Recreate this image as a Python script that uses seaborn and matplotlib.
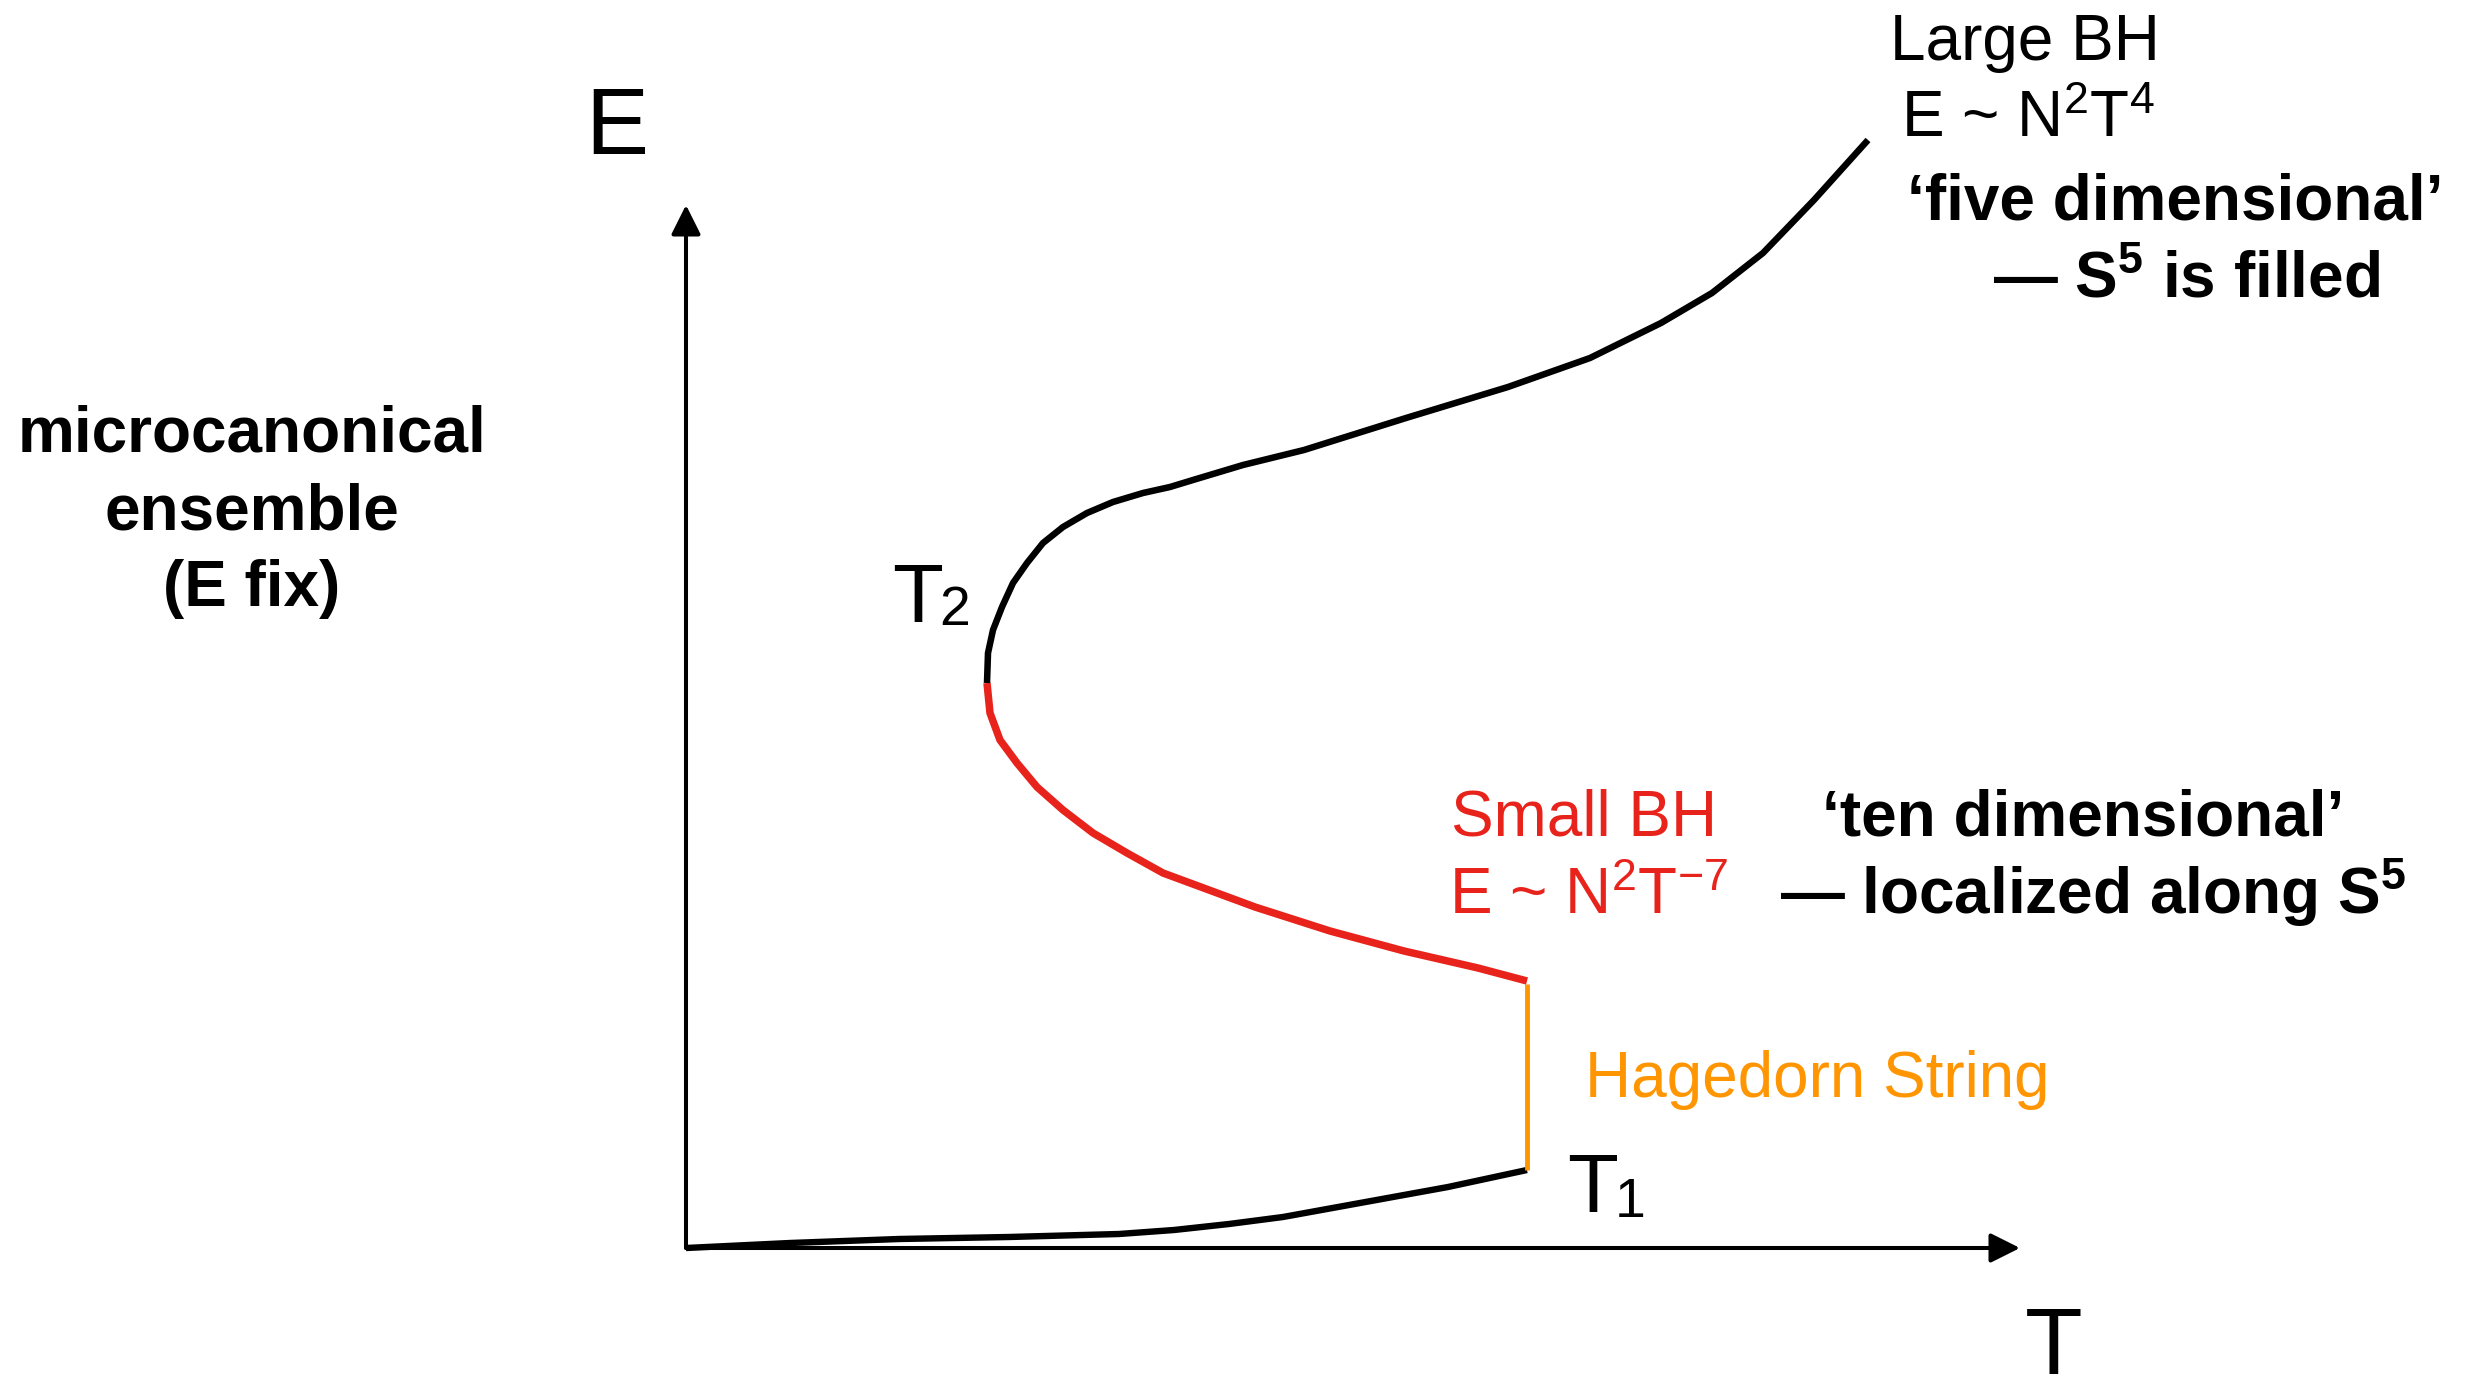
import matplotlib
matplotlib.use("Agg")
import matplotlib.pyplot as plt
import seaborn as sns

# ---------------- data (schematic units) ----------------
# low-temperature (thermal gas) branch, ending at T1
T_low = [0.00, 1.04, 2.13, 3.23, 4.33, 4.88, 5.43, 5.97, 6.52, 7.07, 7.62, 8.41]
E_low = [0.00, 0.05, 0.09, 0.11, 0.14, 0.18, 0.24, 0.31, 0.41, 0.51, 0.61, 0.78]

# Hagedorn string (vertical jump at T1)
T_hag = [8.41, 8.41]
E_hag = [0.78, 2.64]

# small black hole branch (red), from T1 back to T2
T_small = [8.41, 7.92, 7.18, 6.44, 5.69, 4.77, 4.41, 4.07, 3.77, 3.51, 3.31,
           3.14, 3.04, 3.01]
E_small = [2.67, 2.80, 2.97, 3.17, 3.41, 3.75, 3.95, 4.15, 4.38, 4.61, 4.85,
           5.08, 5.35, 5.65]

# large black hole branch (black), from T2 upward
T_large = [3.01, 3.02, 3.07, 3.16, 3.27, 3.41, 3.57, 3.77, 4.01, 4.27, 4.57,
           4.84, 5.07, 5.57, 6.18, 7.20, 8.22, 9.04, 9.75, 10.26, 10.77,
           11.28, 11.82]
E_large = [5.65, 5.95, 6.18, 6.41, 6.65, 6.85, 7.05, 7.21, 7.35, 7.46, 7.55,
           7.61, 7.68, 7.83, 7.98, 8.30, 8.61, 8.90, 9.25, 9.55, 9.95,
           10.48, 11.08]

# axis arrow extents
axis_T_max = 13.34
axis_E_max = 10.43

# ---------------- style ----------------
sns.set_style("white")
plt.rcParams["font.family"] = ["Liberation Sans", "DejaVu Sans"]
plt.rcParams["text.color"] = "black"
plt.rcParams["mathtext.fontset"] = "custom"
plt.rcParams["mathtext.rm"] = "Liberation Sans"
plt.rcParams["mathtext.it"] = "Liberation Sans:italic"
plt.rcParams["mathtext.bf"] = "Liberation Sans:bold"

RED = "#E8231B"
ORANGE = "#FF9500"

fig = plt.figure(figsize=(24.68, 13.82), dpi=100)
ax = fig.add_axes([0, 0, 1, 1])
ax.set_xlim(-6.86, 17.82)
ax.set_ylim(-1.34, 12.48)
ax.axis("off")

# axes arrows
arrow_kw = dict(arrowstyle="-|>,head_length=0.4,head_width=0.2", color="black",
                lw=2.9, shrinkA=0, shrinkB=0, mutation_scale=45)
ax.annotate("", xy=(axis_T_max, 0), xytext=(0, 0), arrowprops=arrow_kw)
ax.annotate("", xy=(0, axis_E_max), xytext=(0, 0), arrowprops=arrow_kw)

# curves
sns.lineplot(x=T_low, y=E_low, sort=False, estimator=None, color="black",
             lw=4.6, ax=ax, solid_capstyle="butt", solid_joinstyle="round")
sns.lineplot(x=T_hag, y=E_hag, sort=False, estimator=None, color=ORANGE,
             lw=3.5, ax=ax, solid_capstyle="butt")
sns.lineplot(x=T_small, y=E_small, sort=False, estimator=None, color=RED,
             lw=5.4, ax=ax, solid_capstyle="butt", solid_joinstyle="round")
sns.lineplot(x=T_large, y=E_large, sort=False, estimator=None, color="black",
             lw=4.7, ax=ax, solid_capstyle="butt", solid_joinstyle="round")

# axis labels
ax.text(-0.69, 10.94, "E", fontsize=68, ha="center", va="baseline")
ax.text(13.68, -1.26, "T", fontsize=68, ha="center", va="baseline")

# side description
for s, yb in zip(["microcanonical", "ensemble", "(E fix)"], [7.96, 7.19, 6.42]):
    ax.text(-4.34, yb, s, fontsize=46, fontweight="bold", ha="center", va="baseline")

# T2 / T1 labels
ax.text(2.06, 6.26, "T", fontsize=60, ha="left", va="baseline")
ax.text(2.53, 6.23, "2", fontsize=40, ha="left", va="baseline")
ax.text(8.81, 0.36, "T", fontsize=60, ha="left", va="baseline")
ax.text(9.29, 0.31, "1", fontsize=40, ha="left", va="baseline")

# large BH annotations
ax.text(12.04, 11.88, "Large BH", fontsize=46, ha="left", va="baseline")
ax.text(12.15, 11.11, r"E ~ N$^{2}$T$^{4}$", fontsize=46, ha="left", va="baseline")
ax.text(12.21, 10.28, "\u2018five dimensional\u2019", fontsize=46, fontweight="bold",
        ha="left", va="baseline")
ax.text(13.07, 9.51, r"— S$^{\mathbf{5}}$ is filled", fontsize=46, fontweight="bold",
        ha="left", va="baseline")

# small BH annotations
ax.text(7.65, 4.12, "Small BH", fontsize=46, color=RED, ha="left", va="baseline")
ax.text(7.63, 3.34, r"E ~ N$^{2}$T$^{-7}$", fontsize=46, color=RED, ha="left", va="baseline")
ax.text(11.36, 4.12, "\u2018ten dimensional\u2019", fontsize=46, fontweight="bold",
        ha="left", va="baseline")
ax.text(10.94, 3.34, r"— localized along S$^{\mathbf{5}}$", fontsize=46, fontweight="bold",
        ha="left", va="baseline")

# Hagedorn
ax.text(8.99, 1.51, "Hagedorn String", fontsize=46, color=ORANGE, ha="left", va="baseline")

fig.savefig("out.png", dpi=100, facecolor="white")
